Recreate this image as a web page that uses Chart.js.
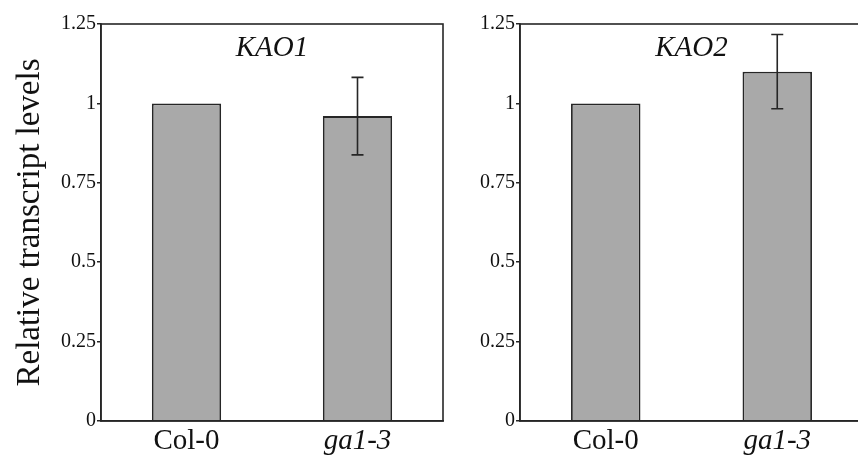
<!DOCTYPE html>
<html>
<head>
<meta charset="utf-8">
<script src="https://cdn.jsdelivr.net/npm/chart.js@4/dist/chart.umd.min.js"></script>
<style>
  html, body { margin: 0; padding: 0; background: #fff; overflow: hidden; width: 858px; height: 455px; }
  canvas { position: absolute; top: 0; }
  #c1 { left: 0; }
  #c2 { left: 450px; }
</style>
</head>
<body>
<canvas id="c1" width="450" height="455"></canvas>
<canvas id="c2" width="420" height="455"></canvas>
<script>
const categories = ['Col-0', 'ga1-3'];
const kao1Values = [1.0, 0.96];
const kao1Errors = [0, 0.122];
const kao2Values = [1.0, 1.10];
const kao2Errors = [0, 0.117];
const yTicks = [0, 0.25, 0.5, 0.75, 1, 1.25];
const panelTitles = ['KAO1', 'KAO2'];
const yAxisTitle = 'Relative transcript levels';

const SERIF = '"Liberation Serif", "Times New Roman", serif';
const INK = '#262626';

const boxPlugin = {
  id: 'box',
  afterDraw(chart) {
    const a = chart.chartArea, ctx = chart.ctx;
    ctx.save();
    ctx.strokeStyle = INK;
    ctx.lineWidth = 1.6;
    ctx.strokeRect(a.left, a.top, a.right - a.left, a.bottom - a.top);
    ctx.restore();
  }
};

const errorPlugin = {
  id: 'errbars',
  afterDatasetsDraw(chart, args, opts) {
    const meta = chart.getDatasetMeta(0);
    const ys = chart.scales.y;
    const vals = chart.data.datasets[0].data;
    const errs = opts.errors || [];
    const ctx = chart.ctx;
    ctx.save();
    ctx.strokeStyle = INK;
    ctx.lineWidth = 1.6;
    meta.data.forEach((bar, i) => {
      const e = errs[i];
      if (!e) return;
      const x = bar.x;
      const yt = ys.getPixelForValue(vals[i] + e);
      const yb = ys.getPixelForValue(vals[i] - e);
      const cap = 6;
      ctx.beginPath();
      ctx.moveTo(x, yt); ctx.lineTo(x, yb);
      ctx.moveTo(x - cap, yt); ctx.lineTo(x + cap, yt);
      ctx.moveTo(x - cap, yb); ctx.lineTo(x + cap, yb);
      ctx.stroke();
    });
    ctx.restore();
  }
};

const innerTitlePlugin = {
  id: 'innerTitle',
  afterDraw(chart, args, opts) {
    const a = chart.chartArea, ctx = chart.ctx;
    ctx.save();
    ctx.fillStyle = '#111';
    ctx.font = 'italic 29px ' + SERIF;
    ctx.textAlign = 'center';
    ctx.textBaseline = 'middle';
    ctx.fillText(opts.text, (a.left + a.right) / 2 + (opts.dx || 0), a.top + 24);
    ctx.restore();
  }
};

function makeChart(id, values, errors, title, showYTitle, yWidth, padRight) {
  return new Chart(document.getElementById(id), {
    type: 'bar',
    data: {
      labels: categories,
      datasets: [{
        data: values,
        backgroundColor: '#a9a9a9',
        borderColor: INK,
        borderWidth: 1.8,
        barPercentage: 0.405,
        categoryPercentage: 1.0
      }]
    },
    options: {
      responsive: false,
      animation: false,
      events: [],
      layout: { padding: { top: 24, right: padRight, bottom: 0, left: 0 } },
      plugins: {
        legend: { display: false },
        tooltip: { enabled: false },
        title: { display: false },
        errbars: { errors: errors },
        innerTitle: { text: title }
      },
      scales: {
        x: {
          type: 'category',
          grid: { display: false, drawTicks: false },
          border: { display: true, color: INK, width: 1.6 },
          ticks: {
            color: '#111',
            padding: 3,
            maxRotation: 0,
            font: (c) => ({ family: SERIF, size: 29, style: c.index === 1 ? 'italic' : 'normal' })
          },
          afterFit: (s) => { s.height = 34; }
        },
        y: {
          min: 0,
          max: 1.25,
          afterBuildTicks: (s) => { s.ticks = yTicks.map(v => ({ value: v })); },
          grid: { drawOnChartArea: false, drawTicks: true, tickLength: 4, color: INK, lineWidth: 1.5 },
          border: { display: true, color: INK, width: 1.6 },
          ticks: {
            color: '#111',
            padding: 1,
            font: { family: SERIF, size: 20 },
            callback: (v) => String(v)
          },
          title: {
            display: showYTitle,
            text: yAxisTitle,
            color: '#111',
            font: { family: SERIF, size: 33 },
            padding: { top: 11, bottom: 0 }
          },
          afterFit: (s) => { s.width = yWidth; }
        }
      }
    },
    plugins: [boxPlugin, errorPlugin, innerTitlePlugin]
  });
}

makeChart('c1', kao1Values, kao1Errors, panelTitles[0], true, 101, 7);
makeChart('c2', kao2Values, kao2Errors, panelTitles[1], false, 70, 7);
</script>
</body>
</html>
